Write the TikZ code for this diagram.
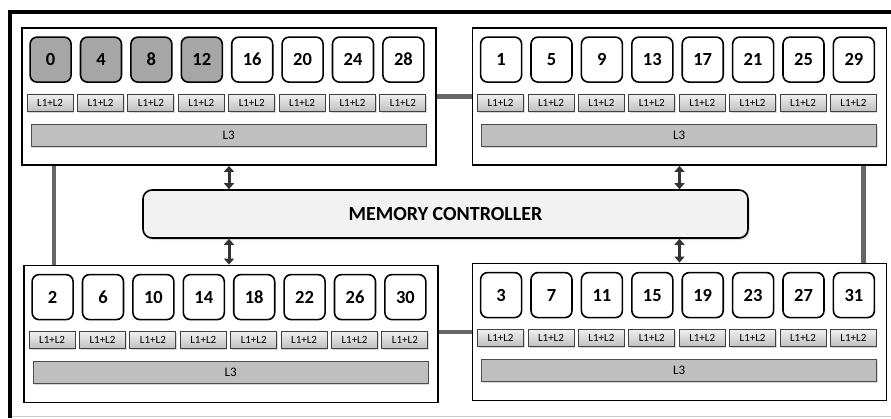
\documentclass[tikz,border=0pt]{standalone}
\usepackage{fontspec}
\setmainfont{Carlito}
\usetikzlibrary{calc,arrows.meta,shadows}

\definecolor{coregrey}{HTML}{A6A6A6}
\definecolor{cachegrey}{HTML}{BFBFBF}
\definecolor{linkgrey}{HTML}{666666}
\definecolor{ctrlfill}{HTML}{F2F2F2}

\tikzset{
  cpubox/.style={draw=black, line width=1.8pt, fill=white, minimum width=414pt,
    minimum height=137pt, inner sep=0pt},
  corebox/.style={draw=black, line width=1.6pt, rounded corners=7pt, minimum width=41pt,
    minimum height=45pt, inner sep=0pt, font=\fontsize{18.5}{18.5}\selectfont\bfseries},
  l12box/.style={draw=black!75, line width=0.9pt, top color=black!6, bottom color=black!25,
    minimum width=46pt, minimum height=17pt, inner sep=0pt,
    font=\fontsize{11}{11}\selectfont,
    drop shadow={shadow xshift=1pt, shadow yshift=-1.5pt, opacity=0.3}},
  l3box/.style={draw=black!70, line width=1pt, fill=cachegrey, minimum width=395pt,
    minimum height=22pt, inner sep=0pt, font=\fontsize{13}{13}\selectfont,
    drop shadow={shadow xshift=1pt, shadow yshift=-1.5pt, opacity=0.3}},
  ctrlbox/.style={draw=black, line width=1.6pt, fill=ctrlfill, rounded corners=9pt,
    minimum width=605pt, minimum height=48pt, inner sep=0pt,
    font=\fontsize{20}{20}\selectfont\bfseries,
    drop shadow={shadow xshift=1.5pt, shadow yshift=-2pt, opacity=0.3}},
  link/.style={draw=linkgrey, line width=4.5pt},
  busarrow/.style={draw=black!80, line width=3pt,
    {Triangle[length=6pt,width=10pt]}-{Triangle[length=6pt,width=10pt]}},
}

% One processor socket: frame, eight cores, private L1+L2 caches, shared L3
% #1 name, #2 #3 centre, #4 core numbers, #5 number of shaded cores
\newcommand\cpusocket[5]{%
  \node[cpubox] (#1) at (#2,#3) {};
  \foreach \n [count=\i from 0] in {#4} {
    \ifnum\i<#5\relax
      \node[corebox, fill=coregrey] (#1-c\i) at ($(#1.north west)+(29.5+50.4*\i,32.5)$) {\n};
    \else
      \node[corebox, fill=white] (#1-c\i) at ($(#1.north west)+(29.5+50.4*\i,32.5)$) {\n};
    \fi
    \node[l12box] (#1-p\i) at ($(#1.north west)+(29+50.4*\i,75.5)$) {L1+L2};
  }
  \node[l3box] (#1-l3) at ($(#1.north west)+(207.5,108)$) {L3};
}

\begin{document}
\begin{tikzpicture}[x=1pt, y=-1pt]
  \useasboundingbox (0,0) rectangle (891,418);
  \fill[white] (0,0) rectangle (891,418);

  % outer frame
  \draw[black, line width=4pt] (10,418) -- (10,11.5) -- (891,11.5);
  \draw[black!20, line width=1.5pt] (12,416.5) -- (891,416.5);

  \cpusocket{tl}{229}{96.5}{0,4,8,12,16,20,24,28}{4}
  \cpusocket{tr}{679.5}{96.5}{1,5,9,13,17,21,25,29}{0}
  \cpusocket{bl}{231}{334}{2,6,10,14,18,22,26,30}{0}
  \cpusocket{br}{679.5}{332}{3,7,11,15,19,23,27,31}{0}

  \node[ctrlbox] (mc) at (445.5,214) {MEMORY CONTROLLER};

  % socket interconnect
  \draw[link] (tl.east) -- (tr.west);
  \draw[link] (br.west) -- (br.west -| bl.east);
  \draw[link] ($(tl.south west)+(33,0)$) coordinate (lv) -- (lv |- bl.north);
  \draw[link] ($(tr.south east)+(-24,0)$) coordinate (rv) -- (rv |- br.north);

  % memory buses
  \draw[busarrow] (tl.south) -- (tl.south |- mc.north);
  \draw[busarrow] (tr.south) -- (tr.south |- mc.north);
  \draw[busarrow] (tl.south |- mc.south) -- (tl.south |- bl.north);
  \draw[busarrow] (tr.south |- mc.south) -- (tr.south |- br.north);
\end{tikzpicture}
\end{document}
